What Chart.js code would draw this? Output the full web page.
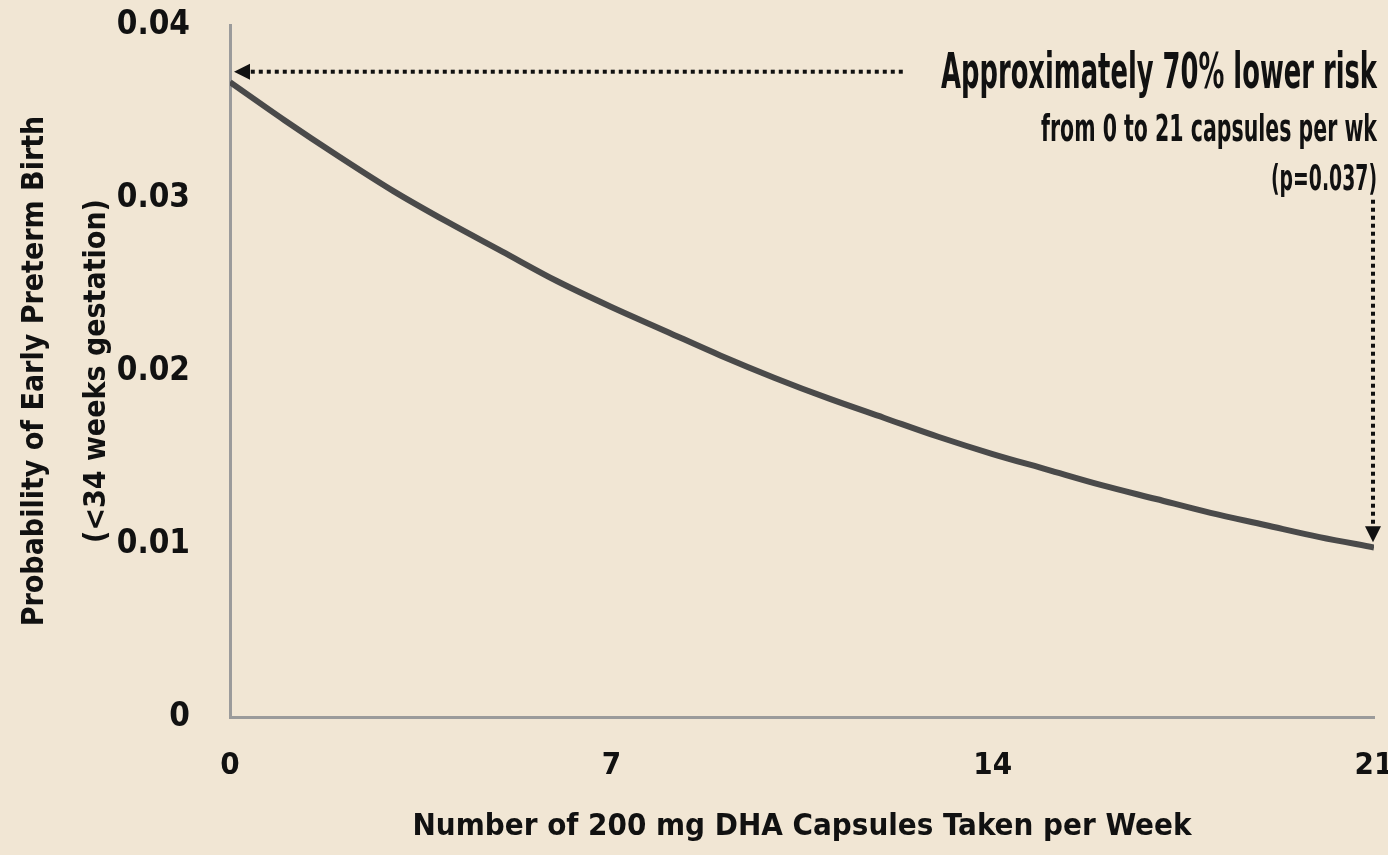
<!DOCTYPE html>
<html>
<head>
<meta charset="utf-8">
<script src="https://cdn.jsdelivr.net/npm/chart.js@4"></script>
<style>
  html, body { margin: 0; padding: 0; background: #f1e6d4; }
  #wrap { width: 1388px; height: 855px; }
</style>
</head>
<body>
<div id="wrap"><canvas id="dhaChart" width="1388" height="855"></canvas></div>
<script>
// data
const capsules = [0, 1, 2, 3, 4, 5, 6, 7, 8, 9, 10, 11, 12, 13, 14, 15, 16, 17, 18, 19, 20, 21];
const risk = [0.0367, 0.0345, 0.0324, 0.0304, 0.0286, 0.0269, 0.0252, 0.0237, 0.0223, 0.0209, 0.0196,
  0.0184, 0.0173, 0.0162, 0.0152, 0.0143, 0.0134, 0.0126, 0.0118, 0.0111, 0.0104, 0.0098];
const xTicks = [0, 7, 14, 21];
const yTicks = [0, 0.01, 0.02, 0.03, 0.04];

// annotation anchors, in data units
const noteLines = ['Approximately 70% lower risk', 'from 0 to 21 capsules per wk', '(p=0.037)'];
const hArrow = { y: 0.0373, fromX: 12.35, toX: 0 };
const vArrow = { x: 21, fromY: 0.0299, toY: 0.0101 };

const FONT = "'Liberation Sans Narrow', 'DejaVu Sans Condensed', 'Roboto', sans-serif";
const INK = '#111';

// squeeze a right-aligned string into a given width (the source font is very narrow)
function fillNarrow(ctx, text, right, baseline, size, width) {
  ctx.font = 'bold ' + size + 'px ' + FONT;
  const w = ctx.measureText(text).width;
  ctx.save();
  ctx.translate(right, baseline);
  ctx.scale(Math.min(1, width / w), 1);
  ctx.fillText(text, 0, 0);
  ctx.restore();
}

// draws the dotted arrows and the note text
const notesPlugin = {
  id: 'notes',
  afterDatasetsDraw(chart) {
    const { ctx, scales: { x, y } } = chart;
    ctx.save();
    ctx.fillStyle = INK;
    ctx.strokeStyle = INK;
    ctx.lineWidth = 4;
    ctx.setLineDash([4, 4]);

    // horizontal arrow pointing at the y axis
    const hy = y.getPixelForValue(hArrow.y);
    const hTip = x.getPixelForValue(hArrow.toX) + 4;
    ctx.beginPath();
    ctx.moveTo(x.getPixelForValue(hArrow.fromX), hy);
    ctx.lineTo(hTip + 16, hy);
    ctx.stroke();

    // vertical arrow down to the curve end
    const vx = x.getPixelForValue(vArrow.x) - 1;
    const vTip = y.getPixelForValue(vArrow.toY);
    ctx.beginPath();
    ctx.moveTo(vx, y.getPixelForValue(vArrow.fromY));
    ctx.lineTo(vx, vTip - 16);
    ctx.stroke();

    ctx.setLineDash([]);
    ctx.beginPath();
    ctx.moveTo(hTip, hy);
    ctx.lineTo(hTip + 16, hy - 8);
    ctx.lineTo(hTip + 16, hy + 8);
    ctx.closePath();
    ctx.fill();

    ctx.beginPath();
    ctx.moveTo(vx, vTip);
    ctx.lineTo(vx - 8, vTip - 16);
    ctx.lineTo(vx + 8, vTip - 16);
    ctx.closePath();
    ctx.fill();

    // note text, right aligned on the last x tick
    const right = x.getPixelForValue(21) + 3;
    ctx.textAlign = 'right';
    ctx.textBaseline = 'alphabetic';
    fillNarrow(ctx, noteLines[0], right, 88, 50, 436);
    fillNarrow(ctx, noteLines[1], right, 141, 38, 336);
    fillNarrow(ctx, noteLines[2], right, 190, 36, 106);
    ctx.restore();
  }
};

const ctx = document.getElementById('dhaChart').getContext('2d');

new Chart(ctx, {
  type: 'line',
  data: {
    datasets: [{
      data: capsules.map((c, i) => ({ x: c, y: risk[i] })),
      borderColor: '#4a4a4a',
      borderWidth: 6,
      pointRadius: 0,
      cubicInterpolationMode: 'monotone',
      fill: false
    }]
  },
  options: {
    responsive: false,
    animation: false,
    layout: { padding: { top: 25, right: 14, left: 0, bottom: 0 } },
    plugins: {
      legend: { display: false },
      tooltip: { enabled: false }
    },
    scales: {
      x: {
        type: 'linear',
        min: 0,
        max: 21,
        afterBuildTicks: s => { s.ticks = xTicks.map(v => ({ value: v })); },
        afterFit: s => { s.height = 138; s.paddingLeft = 0; s.paddingRight = 0; },
        grid: { display: false, drawTicks: false },
        border: { display: true, color: '#9b9b9b', width: 3 },
        ticks: {
          color: INK,
          padding: 30,
          maxRotation: 0,
          font: { family: FONT, size: 31, weight: 'bold' }
        },
        title: {
          display: true,
          text: 'Number of 200 mg DHA Capsules Taken per Week',
          color: INK,
          padding: { top: 0, bottom: 9 },
          font: { family: FONT, size: 31, weight: 'bold' }
        }
      },
      y: {
        min: 0,
        max: 0.04,
        afterBuildTicks: s => { s.ticks = yTicks.map(v => ({ value: v })); },
        afterFit: s => { s.width = 230; s.paddingTop = 0; s.paddingBottom = 0; },
        grid: { display: false, drawTicks: false },
        border: { display: true, color: '#9b9b9b', width: 3 },
        ticks: {
          color: INK,
          padding: 40,
          font: { family: FONT, size: 33, weight: 'bold' },
          callback: v => (v === 0 ? '0' : v.toFixed(2))
        },
        title: {
          display: true,
          text: ['Probability of Early Preterm Birth', '(<34 weeks gestation)'],
          color: INK,
          padding: { top: 4, bottom: 0 },
          font: { family: FONT, size: 30, weight: 'bold', lineHeight: 2.07 }
        }
      }
    }
  },
  plugins: [notesPlugin]
});
</script>
</body>
</html>
